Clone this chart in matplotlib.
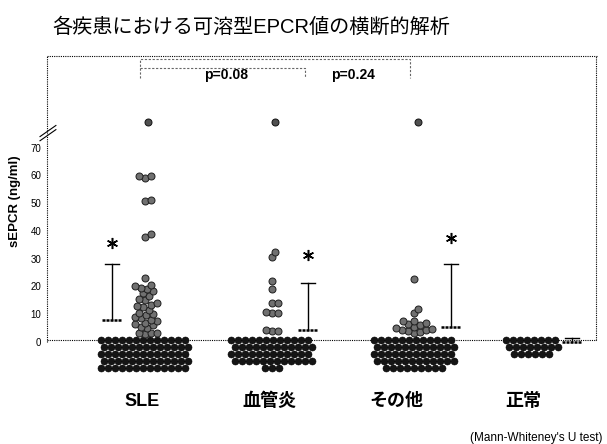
import numpy as np
import matplotlib
matplotlib.use("Agg")
import matplotlib.pyplot as plt

# ---------------- data ----------------
groups = ["SLE", "血管炎", "その他", "正常"]
zero_counts = [65, 51, 57, 22]          # patients at 0 ng/ml (stacked under baseline)
above_break_counts = [1, 1, 1, 0]       # values above the axis break
sle_values = [59.8, 59.8, 59.0, 51.3, 50.7, 38.8, 37.8, 23.0, 20.5, 20.0, 19.5,
              19.0, 18.2, 17.5, 16.5, 15.5, 15.0, 14.0, 13.5, 12.8, 12.5, 11.5,
              10.5, 10.0, 9.7, 9.0, 8.5, 8.0, 7.5, 7.0, 6.5, 6.0, 5.5, 5.0,
              3.3, 3.3, 3.3, 3.0]
vasculitis_values = [32.4, 30.6, 22.0, 19.1, 14.0, 14.0, 10.8, 10.4, 10.4,
                     4.3, 4.0, 4.0]
other_values = [22.7, 11.9, 10.4, 7.6, 7.6, 6.8, 6.5, 6.1, 5.5, 5.0, 4.7,
                4.3, 4.3, 3.8, 3.5, 3.2]
normal_values = []
means = [7.9, 4.3, 5.4, 0.0]
sd_upper = [20.2, 17.0, 22.7, 1.4]
significant = [True, True, True, False]
p_labels = ["p=0.08", "p=0.24"]
y_ticks = [0, 10, 20, 30, 40, 50, 60, 70]
break_display_value = 79.3

# ---------------- layout ----------------
W, H = 607, 444
PX_X = 127.0          # pixels per group unit
PX_Y = 2.776          # pixels per ng/ml
ZERO_PX = 342
fig = plt.figure(figsize=(W / 100, H / 100), dpi=100)
ax = fig.add_axes([47 / W, 0, 550 / W, 1])
x0 = -(142 - 47) / PX_X
x1 = 3 + (597 - 523) / PX_X
ax.set_xlim(x0, x1)
ax.set_ylim(-(H - ZERO_PX) / PX_Y, ZERO_PX / PX_Y)
for s in ax.spines.values():
    s.set_visible(False)
ax.set_xticks([])
ax.set_yticks(y_ticks)
ax.set_yticklabels([str(t) for t in y_ticks], fontsize=7,
                   family=["Liberation Sans"])
ax.tick_params(axis="y", length=0, pad=4)

box_top = 103.0
dot = (0, (1, 1))
ax.plot([x0, x0], [0, box_top], color="black", lw=0.8, ls=dot, clip_on=False)
ax.plot([x1 - 0.005, x1 - 0.005], [0.6, box_top], color="black", lw=0.8, ls=dot, clip_on=False)
ax.plot([x0, x1], [box_top, box_top], color="black", lw=0.8, ls=dot, clip_on=False)
ax.plot([x0, x1], [0.6, 0.6], color="black", lw=0.8, ls=dot, zorder=1)

# axis break mark
for dy in (0.0, 1.5):
    ax.plot([x0 - 0.055, x0 + 0.07], [72.5 + dy, 76.5 + dy], color="black",
            lw=0.8, clip_on=False)

dot_offset = [0.02, 0.02, 0.14, 0.07]
bar_offset = [-0.236, 0.307, 0.433, 0.386]
zero_cols = [13, 12, 12, 8]
star_gap = [7.6, 10.0, 9.4]
DIAM = 7.0
S = (DIAM * 0.72) ** 2
value_lists = [sle_values, vasculitis_values, other_values, normal_values]


def swarm(values, diam):
    placed, out = [], []
    for v in sorted(values):
        y = v * PX_Y
        chosen = 0.0
        for k in range(0, 80):
            found = False
            for sgn in ([0] if k == 0 else [1, -1]):
                dx = sgn * k * 1.0
                if all((dx - px) ** 2 + (y - py) ** 2 >= diam ** 2 for px, py in placed):
                    chosen, found = dx, True
                    break
            if found:
                break
        placed.append((chosen, y))
        out.append((chosen / PX_X, v))
    return out


for i, g in enumerate(groups):
    cx = i + dot_offset[i]
    # zero-valued patients stacked below the baseline
    n, nc = zero_counts[i], zero_cols[i]
    xs, ys = [], []
    r = 0
    left = n
    while left > 0:
        k = min(nc, left)
        shift = (0.25 if r % 2 else -0.25)
        for c in range(k):
            xs.append(cx + ((c - (k - 1) / 2) + shift * (k == nc)) * DIAM / PX_X)
            ys.append(0.6 - r * 2.45)
        left -= k
        r += 1
    ax.scatter(xs, ys, s=S, color="#151515", edgecolors="#000000", lw=0.4, zorder=3)
    # positive values
    pts = swarm(value_lists[i], DIAM * 0.82)
    if pts:
        ax.scatter([cx + p[0] for p in pts], [p[1] for p in pts], s=S,
                   color="#707070", edgecolors="#1e1e1e", lw=0.7, zorder=3)
    if above_break_counts[i]:
        ax.scatter([cx + 0.03] * above_break_counts[i],
                   [break_display_value] * above_break_counts[i], s=S,
                   color="#505050", edgecolors="#111111", lw=0.7, zorder=3)
    # mean and upper SD
    bx = i + bar_offset[i]
    top = means[i] + sd_upper[i]
    ax.plot([bx, bx], [means[i], top], color="black", lw=1.0, zorder=4)
    ax.plot([bx - 0.055, bx + 0.055], [top, top], color="black", lw=1.0, zorder=4)
    ax.plot([bx - 0.08, bx + 0.08], [means[i], means[i]], color="black", lw=1.8,
            ls=(0, (1.2, 0.4)), zorder=4)
    if significant[i]:
        ax.plot([bx], [top + star_gap[i]], marker=(6, 2, 0), ms=8, mew=1.1,
                color="black", zorder=4)
    ax.text(i, -21.3, g, ha="center", va="center", fontsize=13, fontweight="bold",
            family=["Liberation Sans", "Noto Sans CJK JP"])

# p-value brackets
bc = "#666666"
bls = (0, (2, 1.5))
b1_end, b2_end = 2.11, 1.283
ax.plot([-0.016, -0.016, b1_end, b1_end], [95.1, 101.9, 101.9, 95.1], color=bc,
        lw=0.8, ls=bls, clip_on=False)
ax.plot([-0.016, b2_end, b2_end], [98.7, 98.7, 95.1], color=bc, lw=0.8, ls=bls,
        clip_on=False)
ax.text(0.661, 96.3, p_labels[0], ha="center", va="center", fontsize=10,
        fontweight="bold", family=["Liberation Sans"])
ax.text(1.661, 96.3, p_labels[1], ha="center", va="center", fontsize=10,
        fontweight="bold", family=["Liberation Sans"])

ax.set_ylabel("sEPCR (ng/ml)", fontsize=9.5, fontweight="bold",
              family=["Liberation Sans"], labelpad=4)
ax.yaxis.set_label_coords(-(47 - 21) / 550, 1 - 201 / H)

fig.text(52 / W, 1 - 27 / H, "各疾患における可溶型EPCR値の横断的解析", ha="left",
         va="center", fontsize=14.5,
         family=["Liberation Sans", "Noto Sans CJK JP"])
fig.text(602 / W, 1 - 438 / H, "(Mann-Whiteney's U test)", ha="right", va="center",
         fontsize=8.5, family=["Liberation Sans"])

fig.savefig("out.png", dpi=100)
